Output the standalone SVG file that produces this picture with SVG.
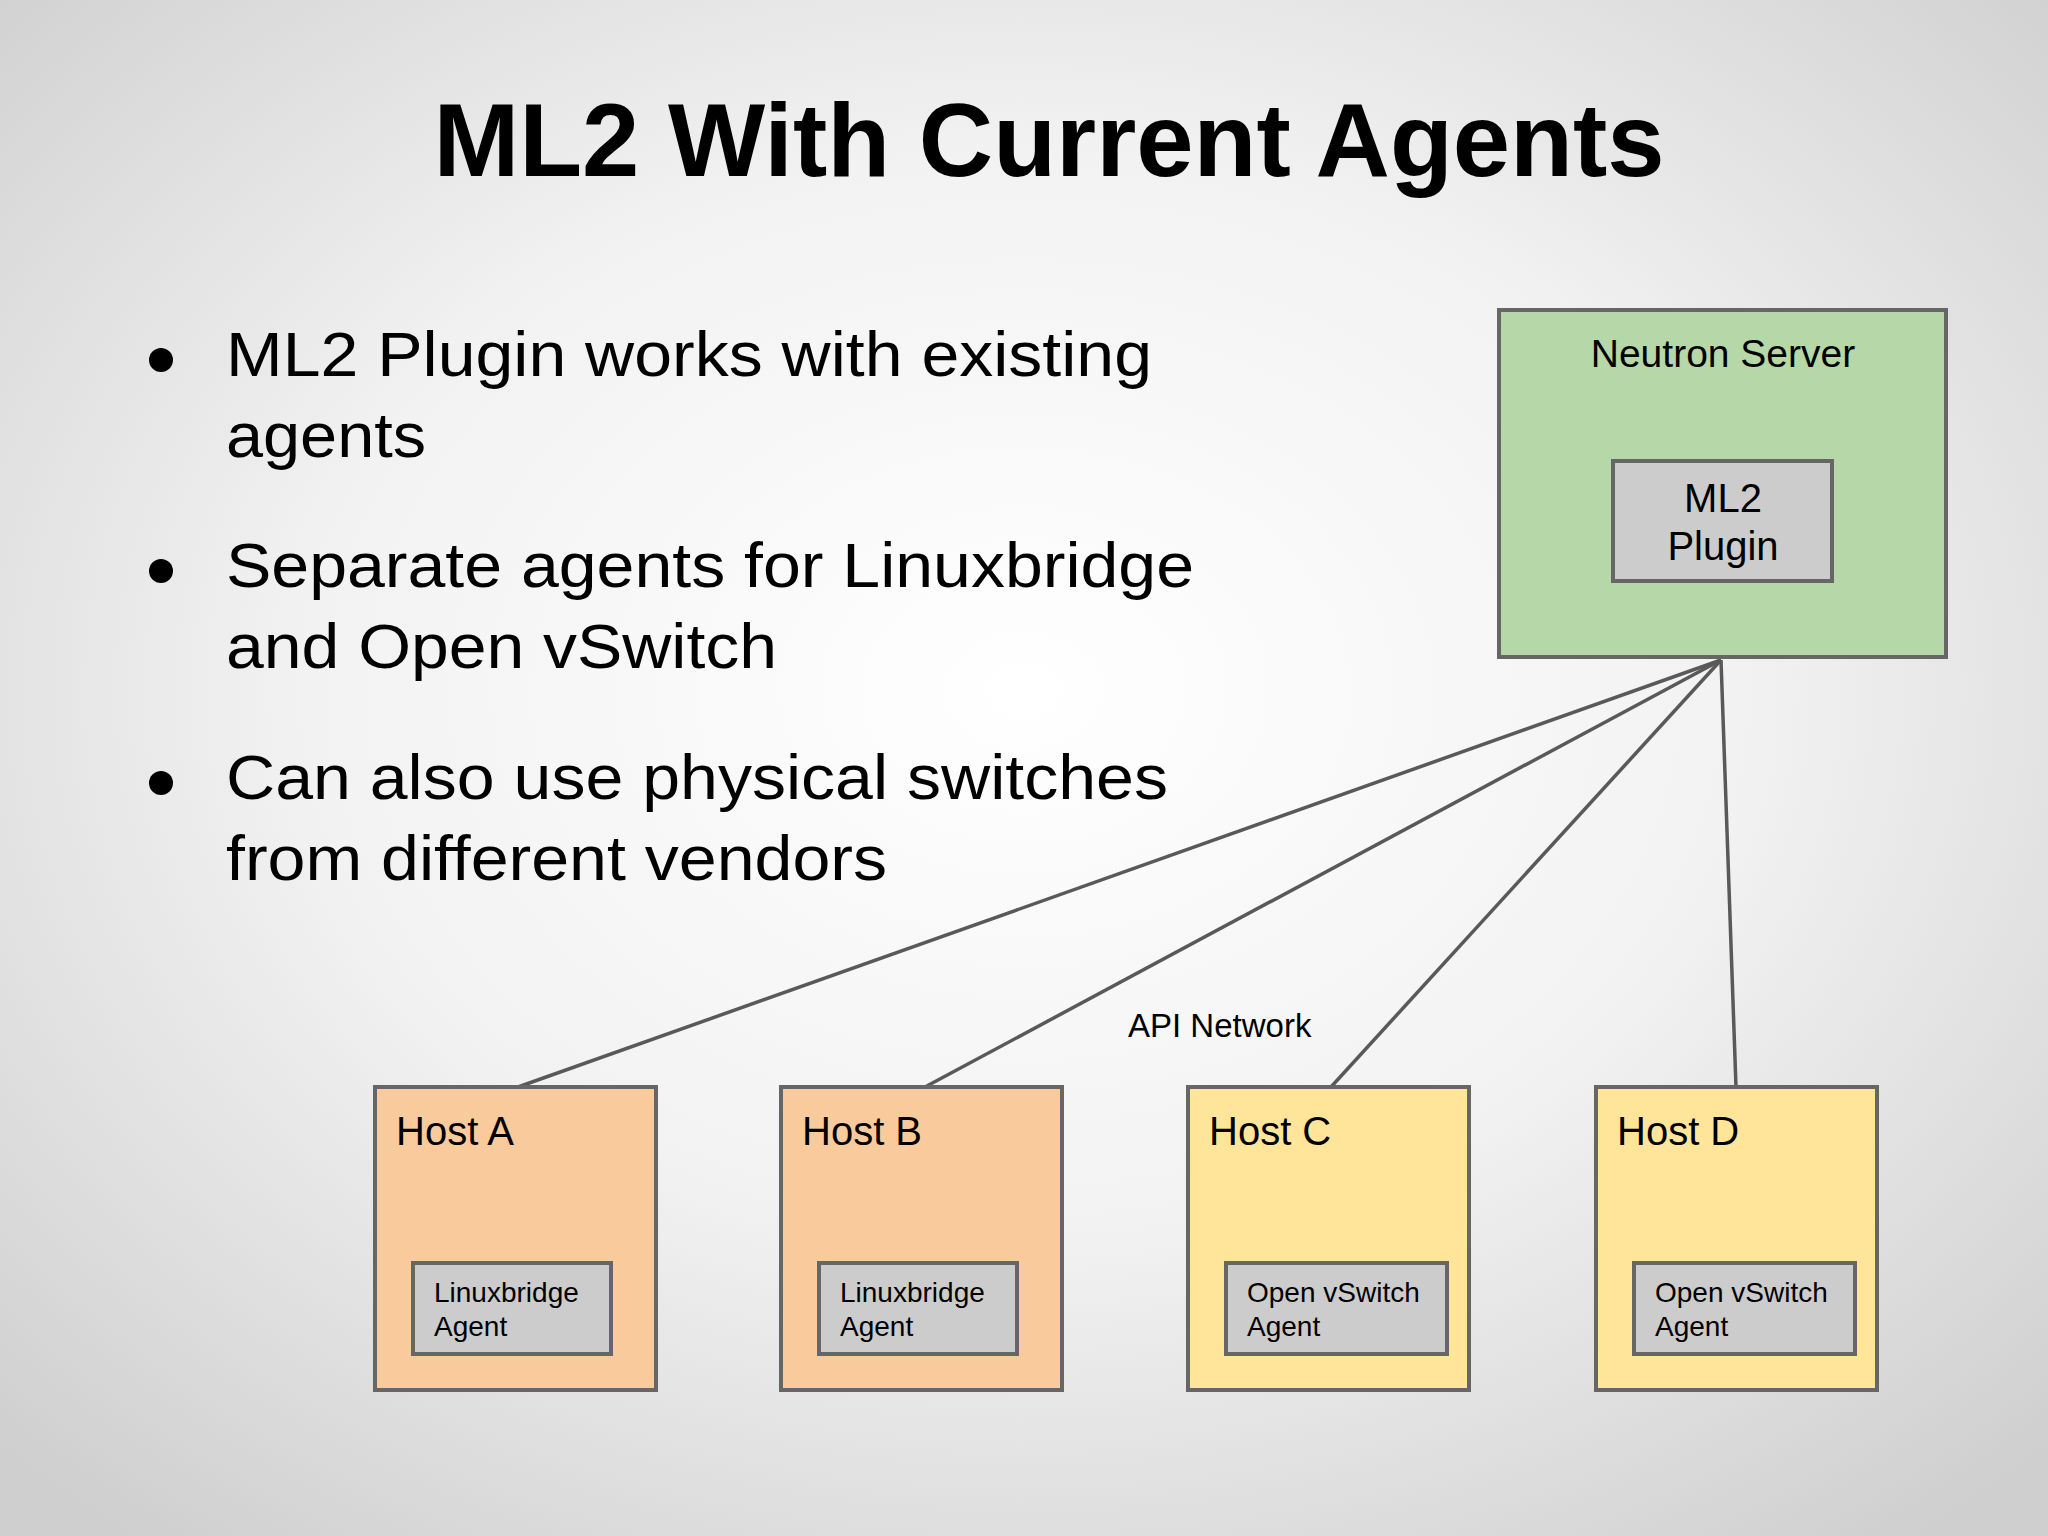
<svg xmlns="http://www.w3.org/2000/svg" width="2048" height="1536" viewBox="0 0 2048 1536">
<defs>
<radialGradient id="bg" cx="50%" cy="45%" r="70%">
<stop offset="0" stop-color="#ffffff"/><stop offset="0.5" stop-color="#f2f2f2"/><stop offset="1" stop-color="#cfcfcf"/>
</radialGradient>
<style>
text{font-family:"Liberation Sans",Arial,sans-serif;fill:#000}
.box{stroke:#666;stroke-width:4}
.agent{fill:#cccccc;stroke:#666;stroke-width:4}
.hl{font-size:40px}
.al{font-size:28px}
.b{font-size:63px}
.conn{stroke:#595959;stroke-width:3.5;fill:none}
</style>
</defs>
<rect width="2048" height="1536" fill="url(#bg)"/>
<text x="1049" y="176" font-size="103" font-weight="bold" text-anchor="middle">ML2 With Current Agents</text>
<g id="bullets">
<circle cx="161" cy="360" r="12"/><circle cx="161" cy="571" r="12"/><circle cx="161" cy="783" r="12"/>
<text class="b" x="226" y="376" textLength="926" lengthAdjust="spacingAndGlyphs">ML2 Plugin works with existing</text>
<text class="b" x="226" y="457" textLength="200" lengthAdjust="spacingAndGlyphs">agents</text>
<text class="b" x="226" y="587" textLength="968" lengthAdjust="spacingAndGlyphs">Separate agents for Linuxbridge</text>
<text class="b" x="226" y="668" textLength="551" lengthAdjust="spacingAndGlyphs">and Open vSwitch</text>
<text class="b" x="226" y="799" textLength="942" lengthAdjust="spacingAndGlyphs">Can also use physical switches</text>
<text class="b" x="226" y="880" textLength="661" lengthAdjust="spacingAndGlyphs">from different vendors</text>
</g>
<g id="connectors">
<line class="conn" x1="1721" y1="660" x2="518" y2="1087"/>
<line class="conn" x1="1721" y1="660" x2="925" y2="1087"/>
<line class="conn" x1="1721" y1="660" x2="1331" y2="1087"/>
<line class="conn" x1="1721" y1="660" x2="1736" y2="1087"/>
<text x="1128" y="1037" font-size="33">API Network</text>
</g>
<g id="neutron">
<rect class="box" x="1499" y="310" width="447" height="347" fill="#b6d7a8"/>
<text x="1723" y="367" font-size="39" text-anchor="middle">Neutron Server</text>
</g>
<g id="ml2">
<rect class="agent" x="1613" y="461" width="219" height="120"/>
<text x="1723" y="512" font-size="40" text-anchor="middle">ML2</text>
<text x="1723" y="560" font-size="40" text-anchor="middle">Plugin</text>
</g>
<g id="hostA">
<rect class="box" x="375" y="1087" width="281" height="303" fill="#f9cb9c"/>
<text class="hl" x="396" y="1145">Host A</text>
<rect class="agent" x="413" y="1263" width="198" height="91"/>
<text class="al" x="434" y="1302">Linuxbridge</text><text class="al" x="434" y="1336">Agent</text>
</g>
<g id="hostB">
<rect class="box" x="781" y="1087" width="281" height="303" fill="#f9cb9c"/>
<text class="hl" x="802" y="1145">Host B</text>
<rect class="agent" x="819" y="1263" width="198" height="91"/>
<text class="al" x="840" y="1302">Linuxbridge</text><text class="al" x="840" y="1336">Agent</text>
</g>
<g id="hostC">
<rect class="box" x="1188" y="1087" width="281" height="303" fill="#ffe599"/>
<text class="hl" x="1209" y="1145">Host C</text>
<rect class="agent" x="1226" y="1263" width="221" height="91"/>
<text class="al" x="1247" y="1302">Open vSwitch</text><text class="al" x="1247" y="1336">Agent</text>
</g>
<g id="hostD">
<rect class="box" x="1596" y="1087" width="281" height="303" fill="#ffe599"/>
<text class="hl" x="1617" y="1145">Host D</text>
<rect class="agent" x="1634" y="1263" width="221" height="91"/>
<text class="al" x="1655" y="1302">Open vSwitch</text><text class="al" x="1655" y="1336">Agent</text>
</g>
</svg>
